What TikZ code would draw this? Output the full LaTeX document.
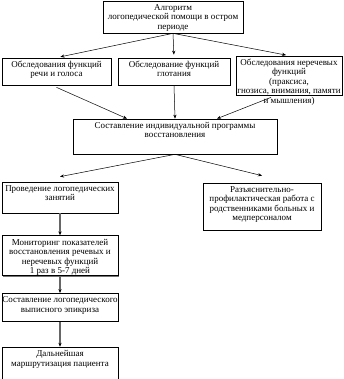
\documentclass[tikz,border=0pt]{standalone}
\usepackage{fontspec}
\setmainfont{Liberation Serif}
\usepackage{tikz}
\usetikzlibrary{positioning, arrows.meta, calc, shadows}

% text block of fixed size, set from the top
\newcommand{\stagebox}[3]{\parbox[c][#2][t]{#1}{\centering\rule{0pt}{9.5pt}#3}}

\tikzset{
  stage/.style={draw=black, fill=white, line width=0.7pt, inner sep=0pt,
    font=\fontsize{9}{9.4}\selectfont,
    drop shadow={shadow xshift=0.9pt, shadow yshift=-0.9pt, fill=black!55, opacity=1}},
  flow/.style={-{Stealth[length=4pt, width=3.2pt]}, line width=0.5pt},
  down/.style={-{Stealth[length=4pt, width=3.2pt, black]}, draw=gray!80!black, line width=1.3pt}
}

\begin{document}
\begin{tikzpicture}[x=1pt, y=-1pt]
        \useasboundingbox (0,0) rectangle (344,379);

        % Top
        \node (algo) [stage] at (173,17) {\stagebox{140pt}{32pt}{Алгоритм\\логопедической помощи в остром\\периоде}};

        % Examinations
        \node (speech) [stage] at (56.5,71.5) {\stagebox{109pt}{27pt}{Обследования функций\\речи и голоса}};
        \node (swallow) [stage] at (174,71.5) {\stagebox{112pt}{27pt}{Обследование функций\\глотания}};
        \node (nonspeech) [stage] at (289,75.5) {\stagebox{106pt}{39pt}{Обследования неречевых\\функций\\(праксиса,\\гнозиса, внимания, памяти\\и мышления)}};

        % Programme
        \node (plan) [stage] at (175,136.5) {\stagebox{204pt}{35pt}{Составление индивидуальной программы\\восстановления}};

        % Work
        \node (lessons) [stage] at (60,197.5) {\stagebox{116pt}{31pt}{Проведение логопедических\\занятий}};
        \node (family) [stage] at (262,206.5) {\stagebox{118pt}{47pt}{Разъяснительно-\\профилактическая работа с\\родственниками больных и\\медперсоналом}};
        \node (monitor) [stage, below=22pt of lessons] {\stagebox{116pt}{40pt}{Мониторинг показателей\\восстановления речевых и\\неречевых функций\\1 раз в 5-7 дней}};
        \node (epicrisis) [stage, below=17pt of monitor] {\stagebox{116pt}{28pt}{Составление логопедического\\выписного эпикриза}};
        \node (route) [stage, below=25pt of epicrisis] {\stagebox{116pt}{32pt}{Дальнейшая\\маршрутизация пациента}};

        % Arrows from the top
        \draw [flow, shorten >=4pt] (algo.south) -- (speech.north);
        \draw [flow, shorten >=3pt] (algo.south) -- (swallow.north);
        \draw [flow, shorten >=3pt] (algo.south) -- (nonspeech.north);

        % Arrows to the programme
        \draw [flow] ([yshift=-2pt]speech.south) -- ([xshift=-48pt]plan.north);
        \draw [flow] (swallow.south) -- (plan.north);
        \draw [flow] ([xshift=-18pt, yshift=-2pt]nonspeech.south) -- ([xshift=42pt]plan.north);

        \draw [flow] (plan.south) -- ([yshift=5pt]lessons.north);
        \draw [flow] (plan.south) -- ([yshift=7pt]family.north);

        % Left column
        \draw [down] (lessons.south) -- (monitor.north);
        \draw [down] (monitor.south) -- (epicrisis.north);
        \draw [down] (epicrisis.south) -- (route.north);

    \end{tikzpicture}
\end{document}
